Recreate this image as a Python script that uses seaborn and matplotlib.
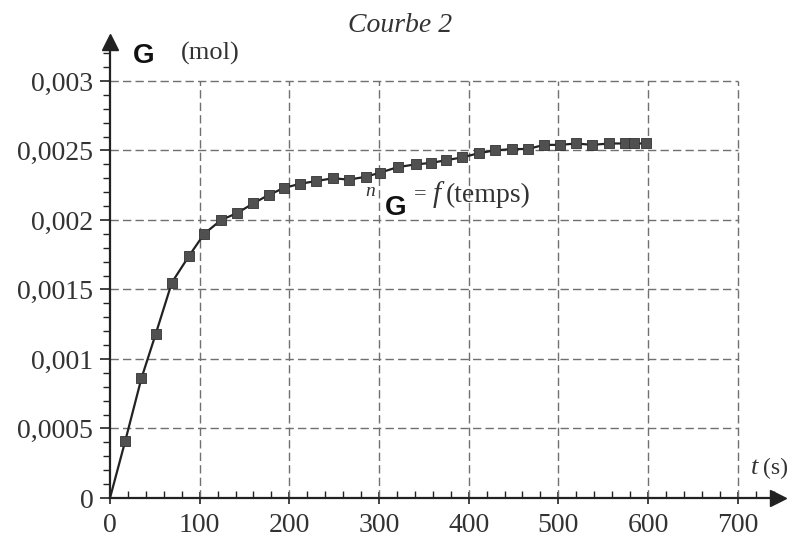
import numpy as np
import pandas as pd
import matplotlib
matplotlib.use("Agg")
import matplotlib.pyplot as plt
import seaborn as sns

# ---- data ----
temps = [0, 17, 35, 51, 69, 88, 105, 124, 142, 160, 177, 194, 212, 230, 249, 266,
         285, 301, 321, 341, 358, 375, 393, 411, 429, 448, 466, 484, 502, 520,
         538, 557, 574, 584, 598]
n_G = [0.0, 0.00041, 0.00086, 0.00118, 0.00155, 0.00174, 0.00190, 0.00200, 0.00205,
       0.00212, 0.00218, 0.00223, 0.00226, 0.00228, 0.00230, 0.00229, 0.00231,
       0.00234, 0.00238, 0.00240, 0.00241, 0.00243, 0.00245, 0.00248, 0.00250,
       0.00251, 0.00251, 0.00254, 0.00254, 0.00255, 0.00254, 0.00255, 0.00255,
       0.00255, 0.00255]
x_ticks = [0, 100, 200, 300, 400, 500, 600, 700]
x_tick_labels = ["0", "100", "200", "300", "400", "500", "600", "700"]
y_ticks = [0, 0.0005, 0.001, 0.0015, 0.002, 0.0025, 0.003]
y_tick_labels = ["0", "0,0005", "0,001", "0,0015", "0,002", "0,0025", "0,003"]

df = pd.DataFrame({"temps": temps, "n_G": n_G})

sns.set_style("white")
plt.rcParams["font.family"] = ["Liberation Serif", "DejaVu Serif"]

fig = plt.figure(figsize=(7.92, 5.41), dpi=100)
ax = fig.add_axes([110 / 792, 43 / 541, 668 / 792, 456 / 541])

ax.set_xlim(0, 745)
ax.set_ylim(0, 0.00328)

# grid (bounded to the 700 s x 0.003 mol box)
grid_kw = dict(colors="#707070", linestyles=(0, (6, 3)), linewidth=1.0, zorder=1)
ax.hlines(y_ticks[1:], 0, x_ticks[-1], **grid_kw)
ax.vlines(x_ticks[1:], 0, y_ticks[-1], **grid_kw)

# curve
sns.lineplot(data=df, x="temps", y="n_G", ax=ax, color="#222222", linewidth=1.6,
             zorder=3, legend=False)
sns.scatterplot(data=df.iloc[1:], x="temps", y="n_G", ax=ax, marker="s", s=48,
                color="#505050", edgecolor="#333333", linewidth=0.6, zorder=4,
                legend=False)

# axes spines / arrows
for s in ["top", "right"]:
    ax.spines[s].set_visible(False)
for s in ["left", "bottom"]:
    ax.spines[s].set_color("#222222")
    ax.spines[s].set_linewidth(1.6)
ax.plot(1, 0, marker=">", markersize=11, color="#222222",
        transform=ax.get_yaxis_transform(), clip_on=False)
ax.plot(0, 1, marker="^", markersize=11, color="#222222",
        transform=ax.get_xaxis_transform(), clip_on=False)

# ticks
ax.set_xticks(x_ticks)
ax.set_xticklabels(x_tick_labels)
ax.set_yticks(y_ticks)
ax.set_yticklabels(y_tick_labels)
ax.set_xticks(np.arange(0, 741, 20), minor=True)
ax.set_yticks(np.arange(0, 0.00321, 0.0001), minor=True)
ax.tick_params(axis="both", which="major", labelsize=20, labelcolor="#333333",
               color="#222222")
ax.tick_params(axis="x", which="major", direction="inout", length=8, width=1.2, pad=7)
ax.tick_params(axis="y", which="major", direction="out", length=7, width=1.2, pad=5)
ax.tick_params(axis="x", which="minor", direction="in", length=5, width=1.0,
               color="#222222")
ax.tick_params(axis="y", which="minor", direction="out", length=5, width=1.0,
               color="#222222")
ax.tick_params(bottom=True, left=True, which="both")
ax.set_xlabel("")
ax.set_ylabel("")

# texts
fig.text(400 / 792, 1 - 26 / 541, "Courbe 2", fontsize=20, style="italic",
         ha="center", va="center", color="#333333")
fig.text(133 / 792, 1 - 56 / 541, "G", fontsize=20, fontweight="bold",
         family=["Liberation Sans", "DejaVu Sans"], ha="left", va="center",
         color="#111111")
fig.text(181 / 792, 1 - 53 / 541, "(mol)", fontsize=19, ha="left", va="center",
         color="#333333")
fig.text(755 / 792, 1 - 468 / 541, "t", fontsize=19, style="italic",
         ha="center", va="center", color="#333333")
fig.text(763 / 792, 1 - 468 / 541, "(s)", fontsize=17, ha="left", va="center",
         color="#333333")
fig.text(365 / 792, 1 - 192 / 541, "n", fontsize=14, style="italic",
         ha="left", va="center", color="#333333")
fig.text(385 / 792, 1 - 208 / 541, "G", fontsize=20, fontweight="bold",
         family=["Liberation Sans", "DejaVu Sans"], ha="left", va="center",
         color="#111111")
fig.text(414 / 792, 1 - 195 / 541, "=", fontsize=16, ha="left", va="center",
         color="#333333")
fig.text(433 / 792, 1 - 195 / 541, "f", fontsize=21, style="italic",
         ha="left", va="center", color="#333333")
fig.text(446 / 792, 1 - 195 / 541, "(temps)", fontsize=20, ha="left", va="center",
         color="#333333")

fig.savefig("out.png", dpi=100)
